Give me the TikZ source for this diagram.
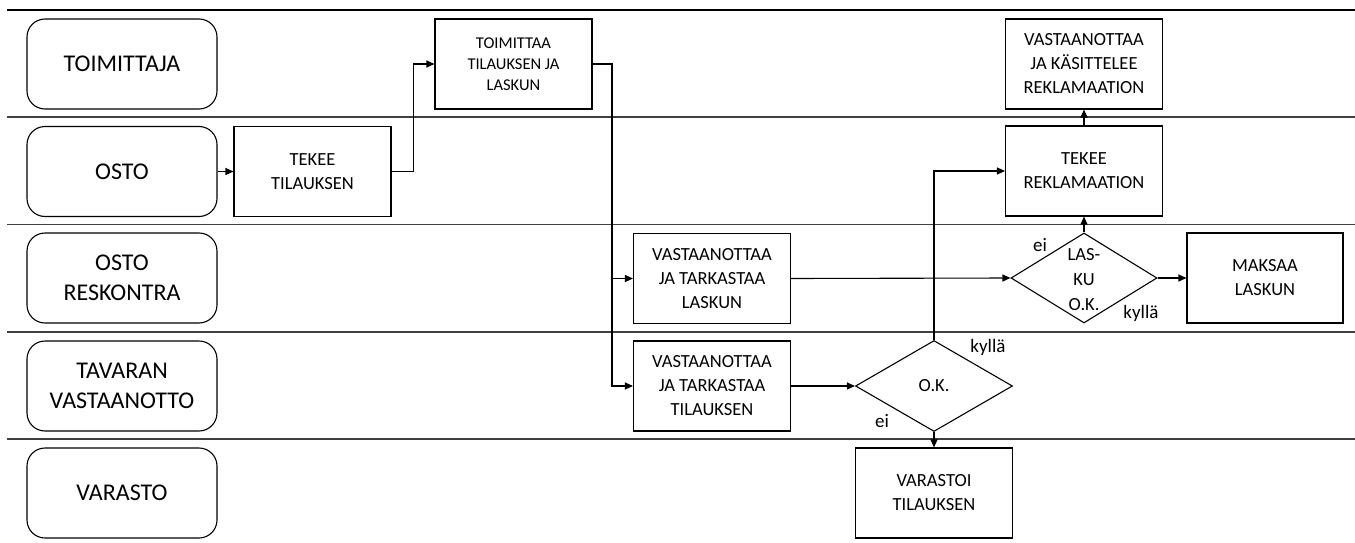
\documentclass[tikz,border=0pt]{standalone}
\usepackage{fontspec}
\setmainfont{Carlito}
\usetikzlibrary{arrows.meta,shapes.geometric}
\begin{document}
\begin{tikzpicture}[x=1pt,y=-1pt,
  lane/.style={draw=black!75,line width=1.3pt},
  lanebox/.style={draw,line width=1.1pt,rounded corners=18pt,minimum width=190pt,minimum height=90pt,
    align=center,font=\fontsize{24}{30}\selectfont,inner sep=0pt},
  stepbox/.style={draw,line width=1.1pt,minimum width=157pt,minimum height=90pt,
    align=center,font=\fontsize{18.5}{24}\selectfont,inner sep=0pt},
  decision/.style={draw,diamond,line width=1.1pt,inner sep=0pt},
  dtext/.style={align=center,font=\fontsize{18.5}{25}\selectfont,inner sep=0pt},
  lbl/.style={font=\fontsize{19}{22}\selectfont,inner sep=0pt},
  arr/.style={line width=1.1pt,-{Triangle[length=8pt,width=7pt]}},
  conn/.style={line width=1.1pt}]
\useasboundingbox (0,0) rectangle (1355,543);

% swimlane separators
\draw[lane,black] (7,10) -- (1355,10);
\draw[lane] (7,117) -- (1355,117);
\draw[lane] (7,224.5) -- (1355,224.5);
\draw[lane] (7,332) -- (1355,332);
\draw[lane] (7,439) -- (1355,439);

% lane titles
\node[lanebox] (toimittaja) at (122,64) {TOIMITTAJA};
\node[lanebox] (osto) at (122,171.5) {OSTO};
\node[lanebox] (reskontra) at (122,278) {OSTO\\RESKONTRA};
\node[lanebox] (tavaran) at (122,386) {TAVARAN\\VASTAANOTTO};
\node[lanebox] (varasto) at (122,493) {VARASTO};

% process steps
\node[stepbox] (tekee) at (312.5,171.5) {TEKEE\\TILAUKSEN};
\node[stepbox,font=\fontsize{16.5}{21}\selectfont] (toim) at (513.5,64) {TOIMITTAA\\TILAUKSEN JA\\LASKUN};
\node[stepbox] (vlaskun) at (712,278.5) {VASTAANOTTAA\\JA TARKASTAA\\LASKUN};
\node[stepbox] (vtil) at (712,386) {VASTAANOTTAA\\JA TARKASTAA\\TILAUKSEN};
\node[stepbox] (varastoi) at (934,493) {VARASTOI\\TILAUKSEN};
\node[stepbox] (trekl) at (1084,171) {TEKEE\\REKLAMAATION};
\node[stepbox] (vrekl) at (1084,64) {VASTAANOTTAA\\JA KÄSITTELEE\\REKLAMAATION};
\node[stepbox,minimum width=156pt] (maksaa) at (1265,278) {MAKSAA\\LASKUN};

% decisions
\node[decision,minimum width=157pt,minimum height=91pt] (ok) at (934,386) {};
\node[dtext] (oktext) at (ok.center) {O.K.};
\node[decision,minimum width=146pt,minimum height=90pt] (lasku) at (1084,278) {};
\node[dtext] (laskutext) at (1084,280) {LAS-\\KU\\O.K.};

% branch labels
\node[lbl] (okyes) at (988,347) {kyllä};
\node[lbl] (okno) at (882,421) {ei};
\node[lbl] (laskuno) at (1040,245) {ei};
\node[lbl] (laskuyes) at (1141,313) {kyllä};

% flow
\coordinate (sp) at (612,64);
\draw[arr] (osto.east) -- (tekee.west);
\draw[arr] (tekee.east) -- ++(22,0) |- (toim.west);
\draw[arr] (toim.east) -- (sp) |- (vtil.west);
\draw[arr] (sp |- vlaskun.west) -- (vlaskun.west);
\draw[arr] (vlaskun.east) -- (lasku.west);
\draw[arr] (vtil.east) -- (ok.west);
\draw[arr] (ok.north) |- (trekl.west);
\draw[arr] (ok.south) -- (varastoi.north);
\draw[arr] (lasku.north) -- (trekl.south);
\draw[arr] (trekl.north) -- (vrekl.south);
\draw[arr] (lasku.east) -- (maksaa.west);
\end{tikzpicture}
\end{document}
